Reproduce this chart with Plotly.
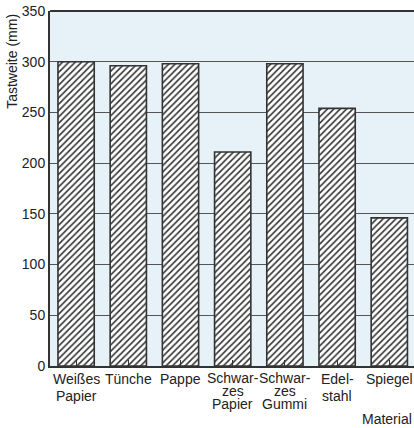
import plotly.graph_objects as go

categories = ["Weißes<br>Papier", "Tünche", "Pappe", "Schwar-<br>zes<br>Papier",
              "Schwar-<br>zes<br>Gummi", "Edel-<br>stahl", "Spiegel"]
values = [300, 296, 298, 211, 298, 254, 146]
y_ticks = [0, 50, 100, 150, 200, 250, 300, 350]

FONT = "Liberation Sans, Arial, Helvetica, sans-serif"
TXT = "#222222"

fig = go.Figure()
fig.add_trace(go.Bar(
    x=list(range(len(categories))),
    y=values,
    marker=dict(
        color="white",
        line=dict(color="#333333", width=1.6),
        pattern=dict(shape="/", size=4.5, solidity=0.35,
                     fgcolor="#333333", bgcolor="white", fillmode="replace"),
    ),
    hoverinfo="skip",
))

fig.update_layout(
    width=414, height=428, autosize=False,
    margin=dict(l=50, r=0, t=11, b=62, pad=0),
    paper_bgcolor="white",
    plot_bgcolor="#e6f1f8",
    showlegend=False,
    bargap=0.305,
    font=dict(family=FONT, size=14, color=TXT),
)
fig.update_xaxes(
    range=[-0.5, 6.473],
    tickmode="array",
    tickvals=list(range(len(categories))),
    ticktext=categories,
    showticklabels=False,
    tickson="boundaries",
    ticks="inside", ticklen=6, tickwidth=1.2, tickcolor="#333333",
    showline=True, linecolor="#333333", linewidth=2,
    showgrid=False, zeroline=False,
    automargin=False,
)
fig.update_yaxes(
    range=[0, 350],
    tickmode="array", tickvals=y_ticks, ticktext=[str(v) for v in y_ticks],
    showline=True, linecolor="#333333", linewidth=2,
    showgrid=True, gridcolor="#555555", gridwidth=1,
    zeroline=False, ticks="", automargin=False,
    tickfont=dict(family=FONT, size=14, color=TXT),
    ticklabelstandoff=0,
)

# category labels, line by line (3-line labels are set tighter, as in the original)
for i, lab in enumerate(categories):
    lines = lab.split("<br>")
    if len(lines) > 2:
        first, step = 12, 13
    else:
        first, step = 13, 17
    for k, ln in enumerate(lines):
        fig.add_annotation(text=ln, xref="x", yref="paper", x=i, y=0,
                           xanchor="center", yanchor="middle",
                           yshift=-(first + k * step), showarrow=False,
                           font=dict(family=FONT, size=14, color=TXT))

# top border
fig.add_shape(type="line", xref="paper", yref="paper", x0=0, x1=1, y0=1, y1=1,
              line=dict(color="#333333", width=2))
fig.add_annotation(text="Tastweite (mm)", textangle=-90, xref="paper", yref="paper",
                   x=-0.105, y=0.859, xanchor="center", yanchor="middle",
                   showarrow=False, font=dict(family=FONT, size=14, color=TXT))
fig.add_annotation(text="Material", xref="paper", yref="paper",
                   x=1.0, y=-0.149, xanchor="right", yanchor="middle",
                   showarrow=False, font=dict(family=FONT, size=14, color=TXT))

fig.write_html("out.html",
               config={"displayModeBar": False},
               post_script="document.body.style.margin='0';"
                           "document.body.style.overflow='hidden';")
